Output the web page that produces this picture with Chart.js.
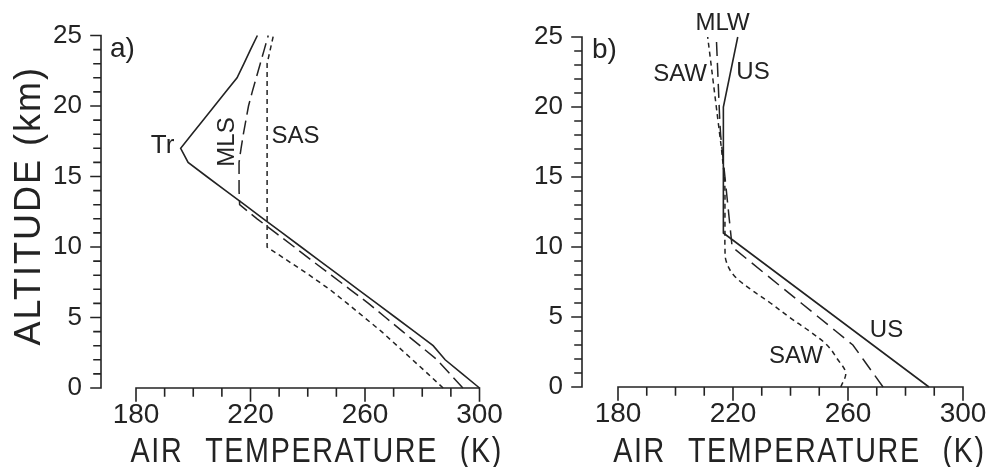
<!DOCTYPE html>
<html>
<head>
<meta charset="utf-8">
<script src="https://cdn.jsdelivr.net/npm/chart.js@4.4.0/dist/chart.umd.min.js"></script>
<style>
html,body{margin:0;padding:0;background:#fff;width:994px;height:467px;overflow:hidden;position:relative}
.pn{position:absolute;top:0;height:467px}
#wa{left:0;width:530px}
#wb{left:480px;width:540px}
canvas{display:block}
</style>
</head>
<body>
<div class="pn" id="wa"><canvas id="ca" width="530" height="467"></canvas></div>
<div class="pn" id="wb"><canvas id="cb" width="540" height="467"></canvas></div>
<script>
// ---------------- data (altitude in km, temperature in K) ----------------
const altitudes = [0,1,2,3,4,5,6,7,8,9,10,11,12,13,14,15,16,17,18,19,20,21,22,23,24,25];

// panel a)
const tropical        = [300.0,294.0,288.0,283.8,277.3,270.7,264.1,257.5,250.9,244.3,237.7,231.1,224.5,217.9,211.3,204.7,198.2,195.6,199.5,203.5,207.4,211.3,215.3,217.7,220.0,222.4];
const midLatSummer    = [294.2,289.7,285.2,279.2,273.2,267.2,261.2,254.7,248.2,241.7,235.3,228.8,222.3,216.2,216.0,216.0,216.0,216.7,217.5,218.4,219.3,220.6,222.0,223.4,224.8,226.2];
const subArcticSummer = [287.3,282.0,276.6,271.2,265.8,259.8,253.8,247.6,240.6,233.2,225.8,225.8,225.8,225.8,225.8,225.8,225.8,225.8,225.8,225.8,225.8,225.8,225.8,225.8,226.9,228.0];

// panel b)
const usStandard      = [288.15,281.65,275.15,268.65,262.15,255.65,249.15,242.65,236.15,229.65,223.15,216.65,216.65,216.65,216.65,216.65,216.65,216.65,216.65,216.65,216.65,217.65,218.65,219.65,220.65,221.65];
const midLatWinter    = [272.2,268.7,265.2,261.7,255.7,249.7,243.7,237.7,231.7,225.7,219.7,219.2,218.7,218.2,217.7,217.2,216.7,216.2,215.7,215.4,215.2,215.0,214.8,214.6,214.4,214.2];
const subArcticWinter = [257.5,259.2,256.3,252.7,246.5,239.5,233.0,226.0,220.2,217.6,217.2,217.2,217.2,217.2,217.2,217.0,216.5,216.0,215.4,214.8,214.2,213.6,213.0,212.4,211.8,211.2];

// axes
const xTickLabels = [180,220,260,300];
const yTickLabels = [0,5,10,15,20,25];
const xMinorStep = 10;
const yMinorStep = 1;
const xTitle = 'AIR TEMPERATURE (K)';
const yTitle = 'ALTITUDE (km)';

// ---------------- styling ----------------
const INK = '#232323';
const FAMILY = "'Liberation Sans', Arial, Helvetica, sans-serif";

const toXY = arr => arr.map((t, i) => ({x: t, y: altitudes[i]}));

function drawText(ctx, str, x, y, o) {
  ctx.save();
  ctx.fillStyle = INK;
  ctx.font = (o.size || 24) + 'px ' + FAMILY;
  ctx.textAlign = o.align || 'center';
  ctx.textBaseline = o.baseline || 'middle';
  try { ctx.letterSpacing = (o.ls || 0) + 'px'; ctx.wordSpacing = (o.ws || 0) + 'px'; } catch (e) {}
  ctx.translate(x, y);
  if (o.rot) ctx.rotate(o.rot);
  if (o.sx) ctx.scale(o.sx, 1);
  ctx.fillText(str, 0, 0);
  ctx.restore();
}

function panelPlugin(p) {
  return {
    id: 'panel_' + p.name,
    afterDraw(chart) {
      const ctx = chart.ctx;
      const xs = chart.scales.x, ys = chart.scales.y;
      const ca = chart.chartArea;
      ctx.save();
      ctx.strokeStyle = INK;
      ctx.lineWidth = 1.6;
      ctx.lineCap = 'square';
      // y axis line + ticks (pointing left)
      const ax = ca.left;
      const yLo = yTickLabels[0], yHi = yTickLabels[yTickLabels.length - 1];
      ctx.beginPath();
      ctx.moveTo(ax, ys.getPixelForValue(yLo));
      ctx.lineTo(ax, ys.getPixelForValue(yHi));
      for (let v = yLo; v <= yHi + 1e-9; v += yMinorStep) {
        const py = ys.getPixelForValue(v);
        const major = yTickLabels.includes(Math.round(v));
        ctx.moveTo(ax, py);
        ctx.lineTo(ax - (major ? 10 : 7), py);
      }
      ctx.stroke();
      // x axis line + ticks (pointing down), detached from the y axis
      const xLo = xTickLabels[0], xHi = xTickLabels[xTickLabels.length - 1];
      const ay = ys.getPixelForValue(yLo);
      ctx.beginPath();
      ctx.moveTo(xs.getPixelForValue(xLo), ay);
      ctx.lineTo(xs.getPixelForValue(xHi), ay);
      for (let v = xLo; v <= xHi + 1e-9; v += xMinorStep) {
        const px = xs.getPixelForValue(v);
        const major = xTickLabels.includes(Math.round(v));
        ctx.moveTo(px, ay);
        ctx.lineTo(px, ay + (major ? 13 : 8));
      }
      ctx.stroke();
      ctx.restore();

      // axis titles
      const cx = (xs.getPixelForValue(xLo) + xs.getPixelForValue(xHi)) / 2 + 9;
      drawText(ctx, xTitle, cx, 462, {size: 35, baseline: 'alphabetic', sx: 0.82, ls: 2, ws: 15});
      if (p.yTitle) {
        drawText(ctx, yTitle, 30, (ca.top + ca.bottom) / 2 - 6, {size: 36, rot: -Math.PI / 2, ls: 2});
      }
      // annotations (positioned in data coordinates)
      p.notes.forEach(n => {
        drawText(ctx, n.text, xs.getPixelForValue(n.x), ys.getPixelForValue(n.y), n);
      });
    }
  };
}

function makePanel(canvasId, p) {
  const ds = p.series.map(s => ({
    label: s.label,
    data: toXY(s.values),
    showLine: true,
    borderColor: INK,
    borderWidth: s.dash.length ? 1.5 : 1.6,
    borderDash: s.dash,
    tension: s.tension || 0,
    pointRadius: 0,
    fill: false,
    clip: false
  }));
  return new Chart(document.getElementById(canvasId), {
    type: 'scatter',
    data: {datasets: ds},
    options: {
      responsive: false,
      animation: false,
      devicePixelRatio: 1,
      layout: {padding: p.padding},
      plugins: {legend: {display: false}, tooltip: {enabled: false}},
      scales: {
        x: {
          type: 'linear', min: p.xMin, max: xTickLabels[xTickLabels.length - 1],
          afterFit: s => { s.height = p.xAxisHeight; },
          afterBuildTicks: s => { s.ticks = xTickLabels.map(v => ({value: v})); },
          grid: {display: false, drawTicks: false},
          border: {display: false},
          ticks: {padding: 10, color: INK, autoSkip: false, maxRotation: 0,
                  font: {family: FAMILY, size: 28}, callback: v => String(v)}
        },
        y: {
          type: 'linear', min: yTickLabels[0], max: yTickLabels[yTickLabels.length - 1],
          afterFit: s => { s.width = p.yAxisWidth; },
          afterBuildTicks: s => { s.ticks = yTickLabels.map(v => ({value: v})); },
          grid: {display: false, drawTicks: false},
          border: {display: false},
          ticks: {padding: 19, color: INK, autoSkip: false,
                  font: {family: FAMILY, size: 26}, callback: v => String(v)}
        }
      }
    },
    plugins: [panelPlugin(p)]
  });
}

makePanel('ca', {
  name: 'a',
  yTitle: true,
  xMin: 167.77,
  yAxisWidth: 101,
  xAxisHeight: 79,
  padding: {left: 0, top: 35.5, right: 50.5, bottom: 0},
  series: [
    {label: 'Tr',  values: tropical,        dash: []},
    {label: 'MLS', values: midLatSummer,    dash: [14, 6]},
    {label: 'SAS', values: subArcticSummer, dash: [5, 4]}
  ],
  notes: [
    {text: 'a)',  x: 170.9, y: 23.5,  size: 28, align: 'left', baseline: 'alphabetic'},
    {text: 'Tr',  x: 189.3, y: 17.16, size: 26},
    {text: 'MLS', x: 212.0, y: 17.45, size: 24, rot: -Math.PI / 2},
    {text: 'SAS', x: 235.7, y: 17.87, size: 24}
  ]
});

makePanel('cb', {
  name: 'b',
  yTitle: false,
  xMin: 167.48,
  yAxisWidth: 102,
  xAxisHeight: 80,
  padding: {left: 0, top: 37, right: 57, bottom: 0},
  series: [
    {label: 'US',  values: usStandard,      dash: []},
    {label: 'MLW', values: midLatWinter,    dash: [14, 7]},
    {label: 'SAW', values: subArcticWinter, dash: [5, 4], tension: 0.35}
  ],
  notes: [
    {text: 'b)',  x: 170.96, y: 23.5, size: 28, align: 'left', baseline: 'alphabetic'},
    {text: 'MLW', x: 216.35, y: 25.96, size: 24},
    {text: 'SAW', x: 201.6,  y: 22.36, size: 24},
    {text: 'US',  x: 226.96, y: 22.5,  size: 24},
    {text: 'US',  x: 273.4,  y: 4.07,  size: 24},
    {text: 'SAW', x: 241.9,  y: 2.21,  size: 24}
  ]
});
</script>
</body>
</html>
